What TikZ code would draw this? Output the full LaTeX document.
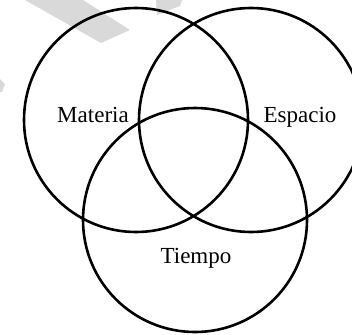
\documentclass[tikz,border=0pt]{standalone}
\usepackage{fontspec}
\setmainfont{Liberation Serif}
\definecolor{wm}{RGB}{217,217,217}
\begin{document}
\begin{tikzpicture}[x=1pt,y=-1pt,
  ring/.style={circle,draw=black,line width=2.6pt,minimum size=224pt,inner sep=0pt,outer sep=0pt},
  lbl/.style={font=\fontsize{23}{26}\selectfont,inner sep=0pt,anchor=base}]
\useasboundingbox (0,0) rectangle (352,334);
\clip (0,0) rectangle (352,334);
% watermark fragments
\fill[wm] (25,0) -- (83,0) -- (130,30) -- (101,43) -- cycle;
\fill[wm] (156,0) -- (182,0) -- (180,6) -- (157,15) -- cycle;
\fill[wm] (0,79) -- (5,84) -- (2,92) -- (0,92) -- cycle;
% circles
\node[ring] (L) at (136,120) {};
\node[ring] (R) at (251,120) {};
\node[ring] (B) at (195,220) {};
% labels
\node[lbl] (mat) at (93,122) {Materia};
\node[lbl] (esp) at (300,122) {Espacio};
\node[lbl] (tie) at (196,263) {Tiempo};
\end{tikzpicture}
\end{document}
